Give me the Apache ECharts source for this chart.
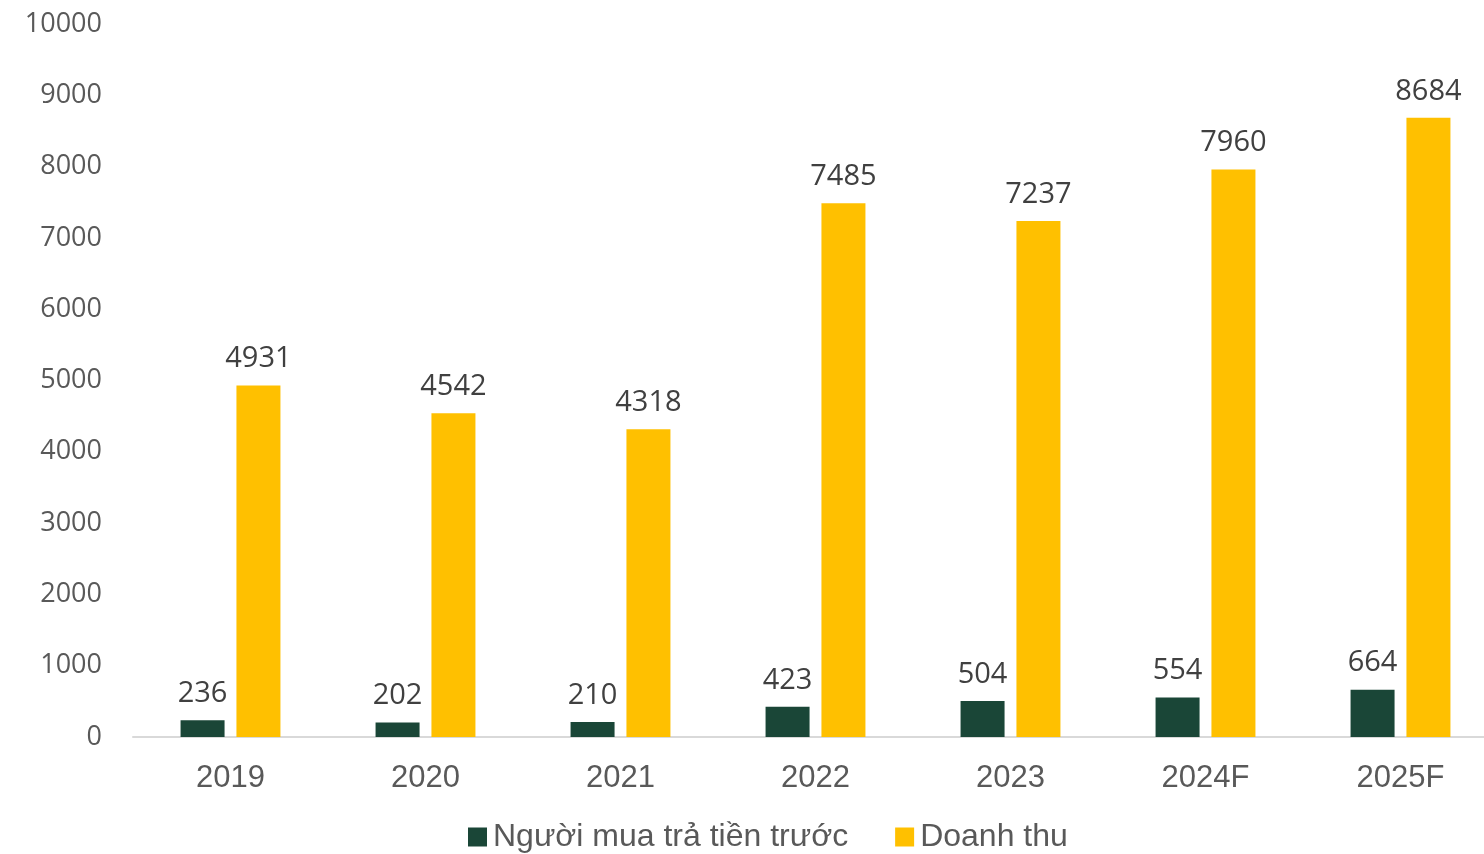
<!DOCTYPE html>
<html><head><meta charset="utf-8">
<script src="https://cdn.jsdelivr.net/npm/echarts@6/dist/echarts.min.js"></script>
<style>html,body{margin:0;padding:0;background:#fff;overflow:hidden}#c{width:1498px;height:854px}</style>
</head><body><div id="c"></div>
<script>
const categories = ['2019','2020','2021','2022','2023','2024F','2025F'];
const prepaidBuyers = [236, 202, 210, 423, 504, 554, 664];
const revenue = [4931, 4542, 4318, 7485, 7237, 7960, 8684];
const seriesNames = ['Người mua trả tiền trước', 'Doanh thu'];

const chart = echarts.init(document.getElementById('c'));
const labelStyle = {show:true, position:'top', distance:12, color:'#404040', fontFamily:'Open Sans', fontSize:29};
chart.setOption({
  animation:false,
  grid:{left:133, top:24, right:0, bottom:117, containLabel:false},
  legend:{left:463, top:816, itemWidth:19, itemHeight:19, itemGap:47, icon:'rect',
    textStyle:{fontFamily:'Liberation Sans', fontSize:32, color:'#595959', padding:[0,0,0,1]}},
  xAxis:{type:'category', data:categories,
    axisLine:{lineStyle:{color:'#d9d9d9', width:2}}, axisTick:{show:false},
    axisLabel:{fontFamily:'Liberation Sans', fontSize:31, color:'#595959', margin:26}},
  yAxis:{type:'value', min:0, max:10000, interval:1000,
    axisLine:{show:false}, axisTick:{show:false}, splitLine:{show:false},
    axisLabel:{fontFamily:'Open Sans', fontSize:27, color:'#595959', margin:31, formatter:v=>String(v)}},
  series:[
    {name:seriesNames[0], type:'bar', data:prepaidBuyers, barWidth:44, barGap:'27%',
     itemStyle:{color:'#1A4637'}, label:labelStyle},
    {name:seriesNames[1], type:'bar', data:revenue, barWidth:44,
     itemStyle:{color:'#FFC000'}, label:labelStyle}
  ]
});
</script></body></html>
